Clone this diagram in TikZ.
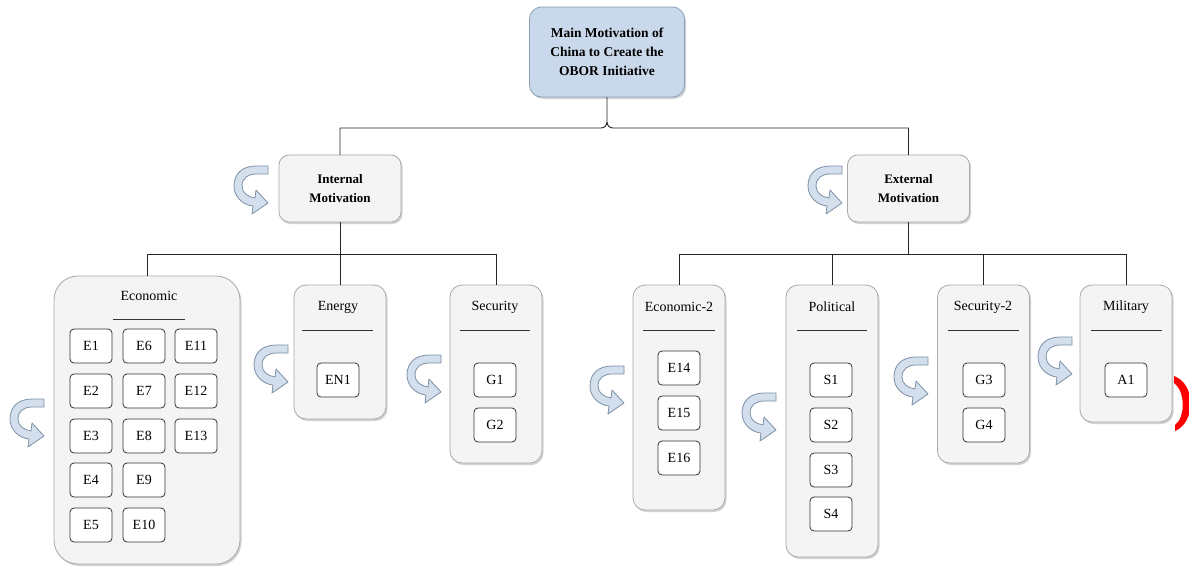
\documentclass[tikz,border=0pt]{standalone}
\usepackage{fontspec}
\setmainfont{Liberation Serif}
\usetikzlibrary{shadows}
\definecolor{mainfill}{HTML}{C9D9EB}
\definecolor{mainline}{HTML}{8AA0B8}
\definecolor{catfill}{HTML}{F4F4F4}
\definecolor{catline}{HTML}{A8A8A8}
\definecolor{arrowfill}{HTML}{D3DFEC}
\definecolor{arrowline}{HTML}{7D90A6}
\begin{document}
\begin{tikzpicture}[x=1pt,y=-1pt,
  shad/.style={drop shadow={shadow xshift=1.5pt,shadow yshift=-2pt,fill=black!35}},
  mainbox/.style={draw=mainline,fill=mainfill,rounded corners=12pt,line width=0.8pt,
    minimum width=155pt,minimum height=90pt,align=center,inner sep=0pt,outer sep=0pt,shad,
    font=\fontsize{13.5}{19}\selectfont\bfseries},
  motbox/.style={draw=catline,fill=catfill,rounded corners=10pt,line width=0.8pt,
    minimum width=122pt,minimum height=67pt,align=center,inner sep=0pt,outer sep=0pt,shad,
    font=\fontsize{13}{19}\selectfont\bfseries},
  catbox/.style={draw=catline,fill=catfill,rounded corners=12pt,line width=0.8pt,
    minimum width=92pt,inner sep=0pt,outer sep=0pt,shad},
  cattitle/.style={font=\fontsize{14}{17}\selectfont,inner sep=0pt},
  itembox/.style={draw=black!80,fill=white,rounded corners=4pt,line width=0.8pt,
    minimum width=42pt,minimum height=34pt,inner sep=0pt,font=\fontsize{14}{17}\selectfont},
  conn/.style={draw=black!85,line width=0.9pt},
  uline/.style={draw=black!80,line width=1pt},
  uturn/.pic={\draw[draw=arrowline,fill=arrowfill,line width=0.8pt,line join=round]
    (34,0) -- (22,0) .. controls (8,0) and (0,8) .. (0,20)
    .. controls (0,31) and (9,39) .. (19,40) -- (18,48) -- (34,37) -- (22,24) -- (21,32)
    .. controls (14,31) and (8,27) .. (8,20) .. controls (8,12) and (14,8) .. (22,8)
    -- (34,8) -- cycle;}
]
\useasboundingbox (0,0) rectangle (1189,568);
\fill[white] (0,0) rectangle (1189,568);

% main
\node[mainbox] (main) at (607,52) {Main Motivation of\\China to Create the\\OBOR Initiative};
% level 2
\node[motbox] (internal) at (340,188.5) {Internal\\Motivation};
\node[motbox] (external) at (908.5,188.5) {External\\Motivation};

% categories
\node[catbox,rounded corners=24pt,minimum width=186pt,minimum height=288pt] (econ) at (147,420) {};
\node[catbox,minimum height=134pt] (energy) at (340,352) {};
\node[catbox,minimum height=178pt] (security) at (496,374) {};
\node[catbox,minimum height=225pt] (econ2) at (679,397.5) {};
\node[catbox,minimum height=272pt] (political) at (832,421) {};
\node[catbox,minimum height=178pt] (security2) at (983.5,374) {};
\node[catbox,minimum height=137pt] (military) at (1126,353.5) {};

% connectors
\coordinate (bus0) at (0,128);
\coordinate (bus1) at (0,254);
\coordinate (tip) at (607,122);
\draw[conn] (internal.north) |- (601,128) to[out=0,in=-90] (tip) -- (main.south);
\draw[conn] (external.north) |- (613,128) to[out=180,in=-90] (tip);
\draw[conn] (internal.south) -- (internal.south |- bus1);
\draw[conn] (econ.north) -- (econ.north |- bus1) -| (security.north);
\draw[conn] (energy.north) -- (energy.north |- bus1);
\draw[conn] (external.south) -- (external.south |- bus1);
\draw[conn] (econ2.north) -- (econ2.north |- bus1) -| (military.north);
\draw[conn] (political.north) -- (political.north |- bus1);
\draw[conn] (security2.north) -- (security2.north |- bus1);

% titles and underlines
\node[cattitle] (tEcon) at (149,296) {Economic};
\draw[uline] (113,319) -- (185,319);
\node[cattitle] (tEnergy) at (338,307) {Energy};
\draw[uline] (302,330) -- (373,330);
\node[cattitle] (tSec) at (495,307) {Security};
\draw[uline] (460,330) -- (530,330);
\node[cattitle] (tEcon2) at (679,307) {Economic-2};
\draw[uline] (643,330) -- (715,330);
\node[cattitle] (tPol) at (832,307) {Political};
\draw[uline] (797,330) -- (867,330);
\node[cattitle] (tSec2) at (983,307) {Security-2};
\draw[uline] (948,330) -- (1019,330);
\node[cattitle] (tMil) at (1126,307) {Military};
\draw[uline] (1091,330) -- (1162,330);

% items Economic
\foreach \n/\x/\y in {1/91/346,2/91/391,3/91/436,4/91/480,5/91/525,
  6/144/346,7/144/391,8/144/436,9/144/480,10/144/525,
  11/196/346,12/196/391,13/196/436}
  \node[itembox] (e\n) at (\x,\y) {E\n};
\node[itembox] (en1) at (338,380) {EN1};
\node[itembox] (g1) at (495,380) {G1};
\node[itembox] (g2) at (495,425) {G2};
\node[itembox] (e14) at (679,368) {E14};
\node[itembox] (e15) at (679,413) {E15};
\node[itembox] (e16) at (679,458) {E16};
\node[itembox] (s1) at (831,380) {S1};
\node[itembox] (s2) at (831,425) {S2};
\node[itembox] (s3) at (831,470) {S3};
\node[itembox] (s4) at (831,514) {S4};
\node[itembox] (g3) at (984,380) {G3};
\node[itembox] (g4) at (984,425) {G4};
\node[itembox] (a1) at (1126,380) {A1};

% u-turn arrows
\pic at (234,166) {uturn};
\pic at (808,166) {uturn};
\pic at (10,399) {uturn};
\pic at (254,345) {uturn};
\pic at (407,355) {uturn};
\pic at (590,366) {uturn};
\pic at (742,393) {uturn};
\pic at (894,357) {uturn};
\pic at (1038,337) {uturn};

% red mark
\fill[red] (1174,376) .. controls (1196,384) and (1196,422) .. (1175,431)
  -- (1175,425) .. controls (1185,418) and (1186,392) .. (1174,383) -- cycle;
\end{tikzpicture}
\end{document}
